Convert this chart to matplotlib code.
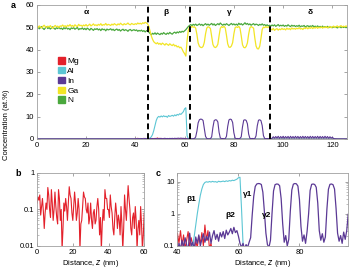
import numpy as np
import matplotlib
matplotlib.use('Agg')
import matplotlib.pyplot as plt
from matplotlib.patches import Patch

plt.rcParams['font.family'] = ['Liberation Sans', 'DejaVu Sans']

# ---- data, panel a (z = 0 .. 126 nm, every 0.5 nm) ----
z = np.arange(0, 126.01, 0.5)

ga = [
    50.3, 49.8, 50.6, 50.1, 49.7, 50.4, 50.9, 50.2, 49.9, 50.5,   # 0
    50.1, 50.7, 50.0, 49.6, 50.3, 50.8, 50.2, 50.5, 49.9, 50.6,   # 5
    50.4, 51.0, 50.3, 50.7, 50.1, 50.9, 50.5, 51.2, 50.4, 50.8,   # 10
    50.2, 51.1, 50.6, 50.3, 51.3, 50.7, 50.9, 50.4, 51.0, 50.6,   # 15
    51.2, 50.5, 50.9, 51.4, 50.6, 51.0, 51.5, 50.8, 51.1, 50.7,   # 20
    51.3, 50.9, 51.6, 50.8, 51.2, 51.0, 51.7, 50.9, 51.3, 51.1,   # 25
    50.8, 51.4, 51.0, 51.6, 51.2, 50.9, 51.5, 51.1, 51.8, 51.3,   # 30
    51.0, 51.6, 51.2, 51.4, 51.9, 51.3, 51.1, 51.7, 51.4, 51.2,   # 35
    51.6, 51.3, 51.9, 51.5, 51.8, 51.4, 52.0, 51.7, 52.2, 51.9,   # 40
    51.5, 50.3, 48.2, 46.1, 44.6, 43.5, 43.0, 42.6, 43.1, 42.4,   # 45
    42.8, 42.2, 42.9, 42.5, 42.0, 42.7, 42.3, 41.9, 42.6, 42.1,   # 50
    41.8, 42.4, 41.6, 41.9, 41.2, 41.5, 40.8, 41.1, 40.2, 39.0,   # 55
    38.2, 37.1, 43.8, 48.6, 50.1, 49.8, 50.4, 50.0, 50.2, 49.6,   # 60
    46.8, 43.0, 41.5, 41.0, 40.9, 41.4, 43.2, 47.0, 49.6, 50.2,   # 65
    50.0, 49.4, 46.0, 42.3, 41.2, 40.9, 41.3, 42.4, 46.2, 49.5,   # 70
    50.3, 49.9, 50.4, 49.7, 46.4, 42.6, 41.1, 41.0, 41.6, 43.1,   # 75
    47.0, 49.8, 50.2, 49.9, 50.4, 49.5, 46.1, 42.2, 41.0, 40.8,   # 80
    41.4, 43.0, 46.9, 49.7, 50.3, 50.0, 49.6, 45.2, 41.6, 40.4,   # 85
    40.3, 41.5, 45.0, 49.0, 50.1, 49.8, 50.3, 49.9, 50.2, 49.7,   # 90
    49.2, 48.8, 49.5, 48.6, 49.1, 49.4, 48.7, 49.2, 48.9, 49.5,   # 95
    49.0, 49.3, 48.8, 49.6, 49.1, 49.4, 48.9, 49.7, 49.2, 49.5,   # 100
    49.1, 49.6, 49.3, 49.8, 49.2, 49.5, 49.0, 49.7, 49.4, 49.9,   # 105
    49.3, 49.8, 49.5, 50.0, 49.4, 49.9, 49.6, 50.1, 49.5, 50.0,   # 110
    49.7, 50.2, 49.6, 50.1, 49.8, 50.3, 49.7, 50.0, 50.4, 49.8,   # 115
    50.2, 50.5, 49.9, 50.3, 50.6, 50.0, 50.4, 50.7, 50.1, 50.5,   # 120
    50.2, 50.6, 50.3,                                             # 125
]

n = [
    49.6, 50.1, 49.3, 49.8, 50.3, 49.5, 49.0, 49.7, 50.2, 49.4,   # 0
    49.9, 49.2, 49.7, 50.2, 49.5, 49.1, 49.8, 49.4, 50.0, 49.3,   # 5
    49.6, 49.0, 49.8, 49.3, 49.9, 49.2, 49.5, 48.9, 49.7, 49.4,   # 10
    49.8, 49.1, 49.5, 49.9, 48.9, 49.4, 49.2, 49.7, 49.0, 49.5,   # 15
    48.9, 49.6, 49.2, 48.7, 49.5, 49.1, 48.6, 49.3, 49.0, 49.4,   # 20
    48.8, 49.2, 48.5, 49.3, 48.9, 49.1, 48.4, 49.2, 48.8, 49.0,   # 25
    49.3, 48.7, 49.1, 48.5, 48.9, 49.2, 48.6, 49.0, 48.3, 48.8,   # 30
    49.1, 48.5, 48.9, 48.7, 48.2, 48.8, 49.0, 48.4, 48.7, 48.9,   # 35
    48.5, 48.8, 48.2, 48.6, 48.3, 48.7, 48.1, 48.5, 47.9, 48.4,   # 40
    48.6, 47.8, 47.2, 46.6, 47.3, 46.9, 47.5, 46.8, 47.4, 47.0,   # 45
    46.7, 47.3, 46.9, 47.6, 47.1, 46.8, 47.4, 47.0, 47.7, 47.2,   # 50
    46.9, 47.5, 47.8, 47.3, 47.9, 47.5, 48.1, 47.7, 48.2, 47.9,   # 55
    48.4, 48.9, 49.6, 50.3, 50.8, 51.2, 50.7, 51.3, 50.9, 51.4,   # 60
    50.8, 51.1, 51.5, 50.9, 51.3, 50.7, 51.2, 51.6, 51.0, 51.4,   # 65
    50.9, 51.3, 51.7, 51.0, 51.5, 50.8, 51.2, 51.6, 51.1, 51.9,   # 70
    51.3, 50.9, 51.4, 51.0, 51.6, 51.2, 50.8, 51.3, 51.7, 51.1,   # 75
    51.5, 51.0, 51.4, 50.9, 51.8, 51.2, 51.6, 51.0, 51.4, 52.0,   # 80
    51.3, 51.7, 51.1, 51.5, 50.9, 51.3, 51.6, 51.0, 51.4, 51.2,   # 85
    50.8, 51.3, 51.0, 51.5, 50.9, 51.2, 50.7, 51.1, 50.6, 50.9,   # 90
    50.5, 51.0, 50.6, 51.1, 50.4, 50.8, 51.2, 50.5, 50.9, 50.6,   # 95
    51.0, 50.4, 50.8, 50.5, 51.1, 50.6, 50.3, 50.9, 50.5, 50.8,   # 100
    50.3, 50.7, 50.4, 50.9, 50.2, 50.6, 50.4, 50.8, 50.1, 50.5,   # 105
    50.7, 50.2, 50.6, 50.3, 50.8, 50.1, 50.5, 50.2, 50.6, 50.0,   # 110
    50.4, 50.1, 50.5, 49.9, 50.3, 50.0, 50.4, 49.8, 50.2, 50.0,   # 115
    49.8, 50.2, 49.9, 50.1, 49.7, 50.0, 50.3, 49.8, 50.1, 49.9,   # 120
    50.2, 49.8, 50.0,                                             # 125
]

al = ([0.02] * 90 + [                                             # 0 .. 44.5
    0.1, 0.2, 0.45, 1.0, 2.0, 3.8, 6.0, 8.3, 9.6, 10.1,           # 45
    9.8, 10.3, 9.9, 10.4, 10.0, 10.2, 9.7, 10.5, 10.1, 10.3,      # 50
    10.6, 10.2, 10.8, 10.4, 11.0, 10.7, 11.3, 11.0, 11.6, 12.2,   # 55
    13.5, 14.0, 1.5, 0.12, 0.03, 0.02, 0.02, 0.02, 0.02, 0.02,    # 60
] + [0.02] * 123)                                                 # 65 .. 126

inn = ([0.03] * 80 + [                                            # 0 .. 39.5
    0.06, 0.12, 0.08, 0.15, 0.09, 0.18, 0.11, 0.07, 0.25, 0.1,    # 40
    0.13, 0.08, 0.19, 0.12, 0.22, 0.1, 0.16, 0.24, 0.13, 0.2,     # 45
    0.15, 0.27, 0.12, 0.21, 0.3, 0.16, 0.23, 0.14, 0.26, 0.19,    # 50
    0.28, 0.17, 0.31, 0.22, 0.27, 0.35, 0.24, 0.38, 0.26, 0.3,    # 55
    0.2, 0.12, 0.09, 0.12, 0.08, 0.11, 0.09, 0.13, 0.18, 0.9,     # 60
    3.5, 7.2, 8.6, 8.9, 8.8, 8.3, 4.8, 1.2, 0.25, 0.11,           # 65
    0.09, 0.15, 1.0, 5.2, 8.2, 8.6, 8.5, 7.6, 3.0, 0.5,           # 70
    0.13, 0.21, 0.1, 0.16, 1.2, 5.6, 8.5, 8.9, 8.7, 7.4,          # 75
    2.8, 0.4, 0.14, 0.22, 0.12, 0.28, 1.0, 5.4, 8.4, 8.6,         # 80
    8.3, 6.8, 2.2, 0.3, 0.15, 0.24, 0.13, 0.19, 1.4, 5.9,         # 85
    8.4, 8.6, 8.2, 6.0, 1.5, 0.25, 0.14, 0.21, 0.12, 0.27,        # 90
    0.16, 0.3, 1.0, 0.35, 1.1, 0.4, 1.2, 0.3, 1.1, 0.4,           # 95
    1.2, 0.35, 1.1, 0.4, 1.15, 0.3, 1.2, 0.4, 1.1, 0.35,          # 100
    1.2, 0.4, 1.15, 0.3, 1.1, 0.4, 1.2, 0.35, 1.15, 0.4,          # 105
    1.1, 0.3, 1.2, 0.4, 1.15, 0.35, 1.1, 0.4, 1.2, 0.3,           # 110
    1.15, 0.4, 1.1, 0.35, 1.2, 0.4, 1.1, 0.3, 1.0, 0.4,           # 115
    0.8, 0.15, 0.1, 0.05, 0.04, 0.03, 0.03, 0.03, 0.03, 0.03,     # 120
    0.03, 0.03, 0.03,                                             # 125
])

mg = ([0.05] * 80 + [                                             # 0 .. 39.5
    0.25, 0.12, 0.3, 0.1, 0.22, 0.08, 0.15, 0.28, 0.09, 0.18,     # 40
    0.11, 0.07, 0.14, 0.09, 0.2, 0.12, 0.26, 0.1, 0.45, 0.15,     # 45
    0.3, 0.08, 0.12, 0.06, 0.04,                                  # 50 .. 52
] + [0.03] * 148)                                                 # 52.5 .. 126

# ---- data, panel b (Mg, z = 0 .. 60 nm) ----
z_b = np.arange(0, 60.01, 0.5)
mg_b = [
    0.15, 0.22, 0.18, 0.25, 0.07, 0.12, 0.2, 0.09, 0.03, 0.08,    # 0
    0.15, 0.1, 0.4, 0.25, 0.1, 0.06, 0.35, 0.15, 0.05, 0.1,       # 5
    0.3, 0.12, 0.06, 0.04, 0.35, 0.2, 0.05, 0.1, 0.008, 0.03,     # 10
    0.15, 0.09, 0.2, 0.12, 0.05, 0.15, 0.42, 0.25, 0.2, 0.08,     # 15
    0.05, 0.12, 0.3, 0.15, 0.05, 0.08, 0.2, 0.1, 0.008, 0.04,     # 20
    0.05, 0.12, 0.3, 0.22, 0.2, 0.1, 0.08, 0.15, 0.04, 0.06,      # 25
    0.15, 0.05, 0.03, 0.08, 0.1, 0.04, 0.05, 0.12, 0.2, 0.1,      # 30
    0.02, 0.06, 0.008, 0.04, 0.1, 0.05, 0.35, 0.2, 0.2, 0.1,      # 35
    0.1, 0.06, 0.25, 0.12, 0.08, 0.03, 0.02, 0.06, 0.15, 0.08,    # 40
    0.03, 0.07, 0.05, 0.02, 0.12, 0.04, 0.008, 0.03, 0.25, 0.1,   # 45
    0.05, 0.15, 0.45, 0.2, 0.1, 0.03, 0.02, 0.06, 0.08, 0.03,     # 50
    0.12, 0.05, 0.008, 0.03, 0.05, 0.02, 0.12, 0.04, 0.008, 0.02, # 55
    0.08,                                                         # 60
]

assert len(ga) == len(n) == len(al) == len(inn) == len(mg) == len(z)
assert len(mg_b) == len(z_b)

boundaries = [45, 62, 94.5]
regions = ['α', 'β', 'γ', 'δ']
region_x = [20, 52.5, 78, 111]

c_mg, c_al, c_in, c_ga, c_n = '#e3212b', '#5cc6d4', '#5b3995', '#f2e526', '#4aa83d'
frame = '#a0a0a0'
fs = 5.5


def style(ax):
    for s in ax.spines.values():
        s.set_color(frame)
        s.set_linewidth(0.6)
    ax.tick_params(direction='in', top=True, right=True, length=2, width=0.5,
                   color='#808080', labelsize=fs, pad=2)
    ax.tick_params(which='minor', direction='in', top=True, right=True,
                   length=1.2, width=0.4, color='#909090')


fig = plt.figure(figsize=(3.5, 2.72), dpi=100)

# ---- panel a ----
ax = fig.add_axes([0.105, 0.489, 0.887, 0.493])
ax.plot(z, mg, color=c_mg, lw=0.8)
ax.plot(z, al, color=c_al, lw=0.8)
ax.plot(z, inn, color=c_in, lw=0.8)
ax.plot(z, n, color=c_n, lw=0.9)
ax.plot(z, ga, color=c_ga, lw=0.9)
for b in boundaries:
    ax.axvline(b, color='k', lw=1.4, ls=(0, (3, 2)))
for lab, xr in zip(regions, region_x):
    ax.text(xr, 56.4, lab, ha='center', va='center', fontsize=6, fontweight='bold')
ax.set_xlim(0, 126)
ax.set_ylim(0, 60)
ax.set_xticks([0, 20, 40, 60, 80, 100, 120])
ax.set_yticks([0, 10, 20, 30, 40, 50, 60])
style(ax)
handles = [Patch(color=c) for c in [c_mg, c_al, c_in, c_ga, c_n]]
ax.legend(handles, ['Mg', 'Al', 'In', 'Ga', 'N'], loc='upper left',
          bbox_to_anchor=(0.055, 0.64), frameon=False, fontsize=6,
          handlelength=0.8, handleheight=0.8, handletextpad=0.3,
          labelspacing=0.2, borderpad=0)

# ---- panel b ----
bx = fig.add_axes([0.106, 0.096, 0.306, 0.268])
bx.plot(z_b, mg_b, color=c_mg, lw=0.8)
bx.set_yscale('log')
bx.set_xlim(0, 60)
bx.set_ylim(0.01, 1)
bx.set_xticks([0, 20, 40, 60])
bx.set_yticks([0.01, 0.1, 1])
bx.set_yticklabels(['0.01', '0.1', '1'])
style(bx)
bx.set_xlabel('Distance, $z$ (nm)', fontsize=fs, labelpad=2)

# ---- panel c ----
cx = fig.add_axes([0.507, 0.096, 0.488, 0.268])
cx.plot(z, mg, color=c_mg, lw=0.8)
cx.plot(z, al, color=c_al, lw=0.8)
cx.plot(z, inn, color=c_in, lw=0.9)
cx.set_yscale('log')
cx.set_xlim(40, 96)
cx.set_ylim(0.1, 19)
cx.set_xticks([40, 60, 80])
cx.set_yticks([0.1, 1, 10])
cx.set_yticklabels(['0.1', '1', '10'])
style(cx)
cx.set_xlabel('Distance, $z$ (nm)', fontsize=fs, labelpad=2)
for lab, xt, yt in [('β1', 44.4, 2.9), ('β2', 57.3, 0.87),
                    ('γ1', 63.1, 3.9), ('γ2', 69.1, 0.87)]:
    cx.text(xt, yt, lab, ha='center', va='center', fontsize=6, fontweight='bold')

fig.text(0.02, 0.54, 'Concentration (at.%)', rotation=90, ha='center', va='center',
         fontsize=fs)
fig.text(13 / 350, 1 - 6 / 272, 'a', fontsize=6.5, fontweight='bold', ha='center', va='center')
fig.text(18 / 350, 1 - 173 / 272, 'b', fontsize=6.5, fontweight='bold', ha='center', va='center')
fig.text(158 / 350, 1 - 174 / 272, 'c', fontsize=6.5, fontweight='bold', ha='center', va='center')

fig.savefig('out.png', dpi=100)
